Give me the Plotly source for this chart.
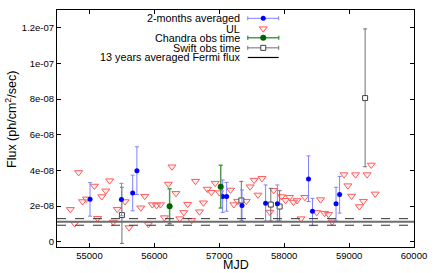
import plotly.graph_objects as go

# ---------------- data ----------------
ul_mjd = [54706, 54772, 54833, 54894, 54954, 55075, 55125, 55190, 55251, 55311,
          55367, 55428, 55549, 55610, 55791, 55852, 55908, 55968, 56033, 56094,
          56155, 56215, 56271, 56332, 56392, 56453, 56513, 56574, 56634, 56695,
          56756, 56816, 56877, 56937, 57002, 57173, 57225, 57285, 57416, 57476,
          57537, 57597, 57658, 57779, 57839, 57960, 58021, 58082, 58142, 58198,
          58259, 58319, 58501, 58561, 58622, 58683, 58739, 58922, 58981, 59038,
          59099, 59159, 59220, 59277, 59341, 59402]
ul_flux = [1.82, 1.02, 3.89, 2.26, 2.41, 3.13, 1.32, 2.54, 2.86, 3.43,
           1.11, 1.83, 2.26, 0.80, 1.91, 2.56, 0.98, 2.09, 2.04, 2.09,
           1.36, 3.24, 4.21, 2.72, 1.30, 1.65, 2.11, 1.21, 3.40, 1.69,
           2.19, 2.96, 2.78, 3.29, 2.76, 2.91, 2.09, 2.28, 2.28, 3.09,
           3.46, 2.63, 3.56, 1.67, 2.89, 2.54, 2.33, 2.50, 2.23, 2.32,
           1.30, 2.50, 1.65, 2.37, 1.61, 1.54, 1.12, 3.77, 3.15, 2.57,
           3.77, 1.98, 2.28, 3.77, 4.31, 2.69]

avg_mjd = [55009, 55493, 55666, 55731, 57052, 57113, 57350, 57714, 57895, 58375, 58436, 58799, 58854]
avg_flux = [2.39, 2.37, 2.74, 3.98, 2.54, 2.54, 2.04, 2.17, 2.13, 3.52, 1.71, 2.13, 2.65]
avg_eplus = [0.93, 0.91, 1.00, 1.35, 0.93, 0.79, 0.87, 1.02, 1.06, 1.30, 0.73, 0.93, 1.02]
avg_eminus = [0.95, 0.91, 1.00, 1.33, 0.89, 0.82, 0.87, 1.00, 0.96, 1.26, 0.80, 0.96, 1.04]

chandra_mjd = [56235, 57022]
chandra_flux = [2.00, 3.09]
chandra_err = [0.98, 1.20]

swift_mjd = [55500, 57340, 57794, 57930, 59247]
swift_flux = [1.50, 2.32, 2.09, 1.98, 8.06]
swift_eplus = [1.56, 1.07, 0.91, 0.89, 3.88]
swift_eminus = [1.59, 1.15, 0.92, 0.81, 3.85]

fermi_mean = 1.13
fermi_low = 0.93
fermi_high = 1.30

SCALE = 1e-8
x_ticks = [55000, 56000, 57000, 58000, 59000, 60000]
x_ticktext = ["55000", "56000", "57000", "58000", "59000", "60000"]
y_ticks = [0, 2e-8, 4e-8, 6e-8, 8e-8, 1e-7, 1.2e-7]
y_ticktext = ["0", "2e-08", "4e-08", "6e-08", "8e-08", "1e-07", "1.2e-07"]

legend_labels = ["2-months averaged", "UL", "Chandra obs time", "Swift obs time",
                 "13 years averaged Fermi flux"]

def s(v):
    return [a * SCALE for a in v]

FONT = "Liberation Sans, Arial, sans-serif"

fig = go.Figure()

# Upper limits
fig.add_trace(go.Scatter(
    x=ul_mjd, y=s(ul_flux), mode="markers",
    marker=dict(symbol="triangle-down", size=7, color="rgba(255,200,200,0.25)",
                line=dict(color="#ff5a5a", width=1)),
    showlegend=False))

# Swift
fig.add_trace(go.Scatter(
    x=swift_mjd, y=s(swift_flux), mode="markers",
    error_y=dict(type="data", symmetric=False, array=s(swift_eplus), arrayminus=s(swift_eminus),
                 color="#707070", thickness=1, width=2),
    marker=dict(symbol="square", size=5, color="white", line=dict(color="#404040", width=1)),
    showlegend=False))

# 2-months averaged
fig.add_trace(go.Scatter(
    x=avg_mjd, y=s(avg_flux), mode="markers",
    error_y=dict(type="data", symmetric=False, array=s(avg_eplus), arrayminus=s(avg_eminus),
                 color="#8080ff", thickness=1, width=2),
    marker=dict(symbol="circle", size=5, color="#0000ff"),
    showlegend=False))

# Chandra
fig.add_trace(go.Scatter(
    x=chandra_mjd, y=s(chandra_flux), mode="markers",
    error_y=dict(type="data", array=s(chandra_err), color="#4f9a4f", thickness=1.5, width=2),
    marker=dict(symbol="circle", size=6, color="#006400"),
    showlegend=False))

# Fermi lines
fig.add_shape(type="line", xref="paper", x0=0, x1=1, yref="y",
              y0=fermi_mean * SCALE, y1=fermi_mean * SCALE,
              line=dict(color="#6e6e6e", width=2))
for v in (fermi_low, fermi_high):
    fig.add_shape(type="line", xref="paper", x0=0, x1=1, yref="y",
                  y0=v * SCALE, y1=v * SCALE,
                  line=dict(color="#333333", width=1, dash="dash"))

# ---------------- custom legend (overlay axes in 0..1) ----------------
lx = 0.5777
lhw = 0.0433
rows = [0.965, 0.9214, 0.8824, 0.8403, 0.7996]
fig.add_trace(go.Scatter(x=[lx], y=[rows[0]], xaxis="x2", yaxis="y2", mode="markers",
                         marker=dict(size=5, color="#0000ff"),
                         error_x=dict(type="data", array=[lhw], color="#8080ff", thickness=1, width=2),
                         showlegend=False, hoverinfo="skip"))
fig.add_trace(go.Scatter(x=[lx], y=[rows[1]], xaxis="x2", yaxis="y2", mode="markers",
                         marker=dict(symbol="triangle-down", size=7, color="rgba(255,200,200,0.25)",
                                     line=dict(color="#ff5a5a", width=1)),
                         showlegend=False, hoverinfo="skip"))
fig.add_trace(go.Scatter(x=[lx], y=[rows[2]], xaxis="x2", yaxis="y2", mode="markers",
                         marker=dict(size=6, color="#006400"),
                         error_x=dict(type="data", array=[lhw], color="#4f9a4f", thickness=1.5, width=2),
                         showlegend=False, hoverinfo="skip"))
fig.add_trace(go.Scatter(x=[lx], y=[rows[3]], xaxis="x2", yaxis="y2", mode="markers",
                         marker=dict(symbol="square", size=5, color="white",
                                     line=dict(color="#404040", width=1)),
                         error_x=dict(type="data", array=[lhw], color="#707070", thickness=1, width=2),
                         showlegend=False, hoverinfo="skip"))
fig.add_trace(go.Scatter(x=[lx - lhw, lx + lhw], y=[rows[4], rows[4]], xaxis="x2", yaxis="y2",
                         mode="lines", line=dict(color="black", width=1.2),
                         showlegend=False, hoverinfo="skip"))
for lab, ry in zip(legend_labels, rows):
    fig.add_annotation(text=lab, xref="paper", yref="paper", x=0.518, y=ry,
                       xanchor="right", yanchor="middle", showarrow=False,
                       font=dict(family=FONT, size=10.8, color="black"))

# Axis titles
fig.add_annotation(text="Flux (ph/cm<sup>2</sup>/sec)", xref="paper", yref="paper",
                   x=-0.129, y=0.54, xanchor="center", yanchor="middle", textangle=-90,
                   showarrow=False, font=dict(family=FONT, size=12.5, color="black"))
fig.add_annotation(text="MJD", xref="paper", yref="paper", x=0.5, y=-0.078,
                   xanchor="center", yanchor="middle", showarrow=False,
                   font=dict(family=FONT, size=12.5, color="black"))

axis_common = dict(showline=True, linecolor="black", linewidth=1, mirror="ticks",
                   ticks="inside", ticklen=4, tickcolor="black", showgrid=False,
                   zeroline=False, tickfont=dict(family=FONT, size=9.5, color="black"))

fig.update_layout(
    width=436, height=273,
    margin=dict(l=57, r=16, t=9, b=26),
    paper_bgcolor="white", plot_bgcolor="white",
    showlegend=False,
    xaxis=dict(range=[54500, 60000], tickvals=x_ticks, ticktext=x_ticktext, **axis_common),
    yaxis=dict(range=[-2.9e-9, 1.3e-7], tickvals=y_ticks, ticktext=y_ticktext, **axis_common),
    xaxis2=dict(overlaying="x", range=[0, 1], visible=False),
    yaxis2=dict(overlaying="y", range=[0, 1], visible=False),
)

fig.write_html("out.html", config={"displayModeBar": False},
               post_script="document.body.style.margin='0';document.body.style.padding='0';")
